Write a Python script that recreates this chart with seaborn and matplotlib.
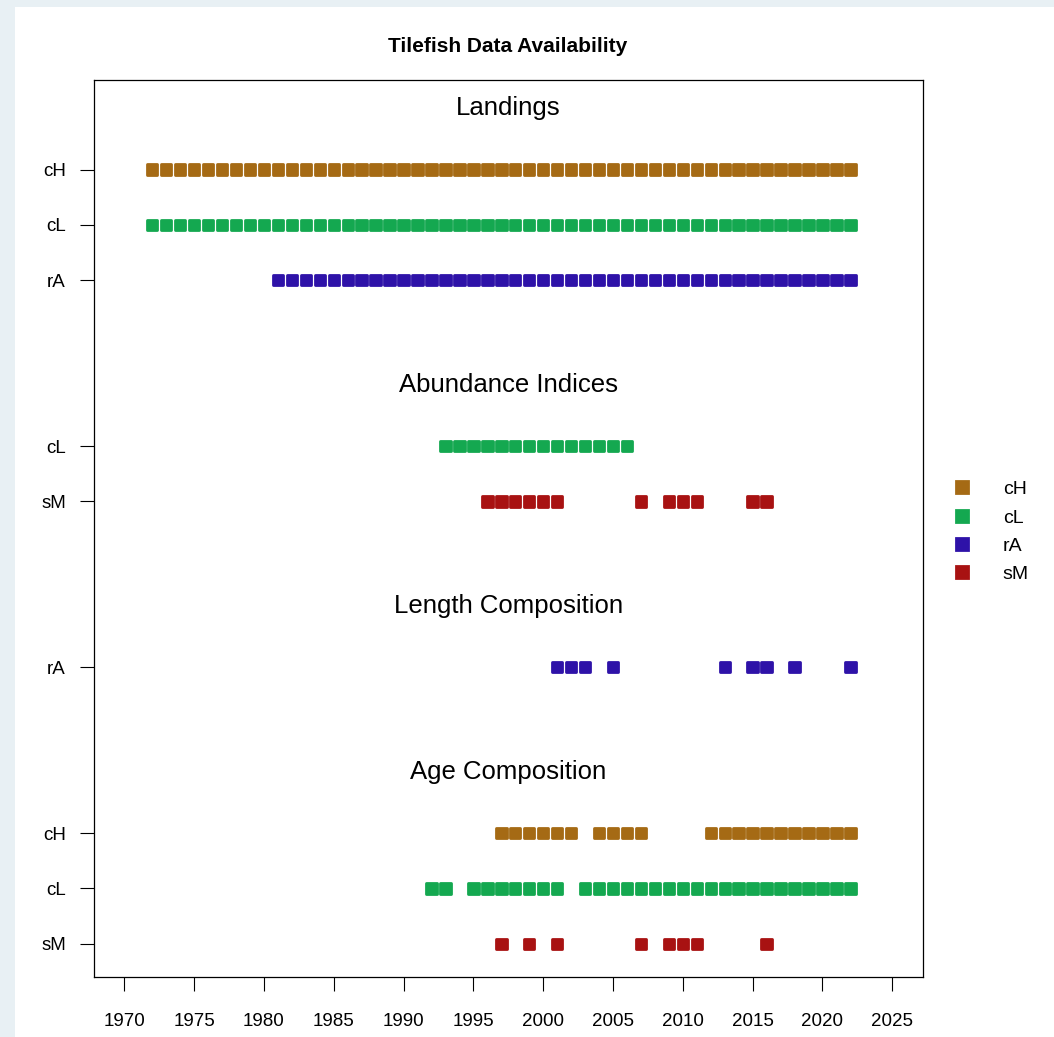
import pandas as pd
import seaborn as sns
import matplotlib.pyplot as plt
from matplotlib.patches import Rectangle

# Data availability by panel and fleet (years with data)
panels = ['Landings', 'Abundance Indices', 'Length Composition', 'Age Composition']

landings_cH = list(range(1972, 2023))
landings_cL = list(range(1972, 2023))
landings_rA = list(range(1981, 2023))

abund_cL = list(range(1993, 2007))
abund_sM = [1996, 1997, 1998, 1999, 2000, 2001, 2007, 2009, 2010, 2011, 2015, 2016]

length_rA = [2001, 2002, 2003, 2005, 2013, 2015, 2016, 2018, 2022]

age_cH = [1997, 1998, 1999, 2000, 2001, 2002, 2004, 2005, 2006, 2007] + list(range(2012, 2023))
age_cL = [1992, 1993, 1995, 1996, 1997, 1998, 1999, 2000, 2001] + list(range(2003, 2023))
age_sM = [1997, 1999, 2001, 2007, 2009, 2010, 2011, 2016]

panel_rows = {
    'Landings': [('cH', landings_cH), ('cL', landings_cL), ('rA', landings_rA)],
    'Abundance Indices': [('cL', abund_cL), ('sM', abund_sM)],
    'Length Composition': [('rA', length_rA)],
    'Age Composition': [('cH', age_cH), ('cL', age_cL), ('sM', age_sM)],
}

fleets = ['cH', 'cL', 'rA', 'sM']
colors = ['#A56A14', '#14A850', '#2E12A8', '#A81212']
year_ticks = list(range(1970, 2030, 5))

# build long table, stacking panels from the bottom up
records = []
ytick_pos, ytick_lab, headings = [], [], []
y = 1
for panel in reversed(panels):
    rows = panel_rows[panel]
    for fleet, yrs in reversed(rows):
        for yr in yrs:
            records.append({'year': yr, 'ypos': y, 'fleet': fleet})
        ytick_pos.append(y)
        ytick_lab.append(fleet)
        y += 1
    headings.append((panel, y - 1 + 1.11))
    y += 2
df = pd.DataFrame(records)

sns.set_style('white')
plt.rcParams['font.family'] = ['Liberation Sans', 'DejaVu Sans']
plt.rcParams['text.color'] = 'black'

fig = plt.figure(figsize=(10.54, 10.37), dpi=100)
fig.patch.set_facecolor('#E8F0F4')
fig.patches.append(Rectangle((15 / 1054, 0), 1, 1 - 7 / 1037, transform=fig.transFigure,
                             facecolor='white', edgecolor='none', zorder=-5))
ax = fig.add_axes([0.0888, 0.0579, 0.7869, 0.865])
ax.set_zorder(2)

sns.scatterplot(data=df, x='year', y='ypos', hue='fleet', hue_order=fleets,
                palette=colors, marker='s', s=56, linewidth=2.0, edgecolor='face', ax=ax)
ax.collections[0].set_joinstyle('round')

for name, yy in headings:
    ax.text(1997.5, yy, name, ha='center', va='center', fontsize=18.5)

ax.set_xlim(1967.8, 2027.2)
ax.set_ylim(0.4, 16.62)
ax.set_xticks(year_ticks)
ax.set_yticks(ytick_pos)
ax.set_yticklabels(ytick_lab)
ax.set_xlabel('')
ax.set_ylabel('')
ax.tick_params(axis='both', direction='out', length=10, width=0.8, color='black',
               labelcolor='black', labelsize=13.5, bottom=True, left=True)
ax.tick_params(axis='x', pad=16)
ax.tick_params(axis='y', pad=10)
for sp in ax.spines.values():
    sp.set_color('black')
    sp.set_linewidth(0.9)

fig.text(0.482, 1 - 46 / 1037, 'Tilefish Data Availability', ha='center', va='center',
         fontsize=15, fontweight='bold', zorder=3)

sns.move_legend(ax, loc='upper left', bbox_to_anchor=(1.014, 0.562), frameon=False,
                title=None, fontsize=14, handletextpad=1.1, labelspacing=0.55,
                borderaxespad=0, markerscale=1.2)

fig.savefig('out.png', dpi=100)
